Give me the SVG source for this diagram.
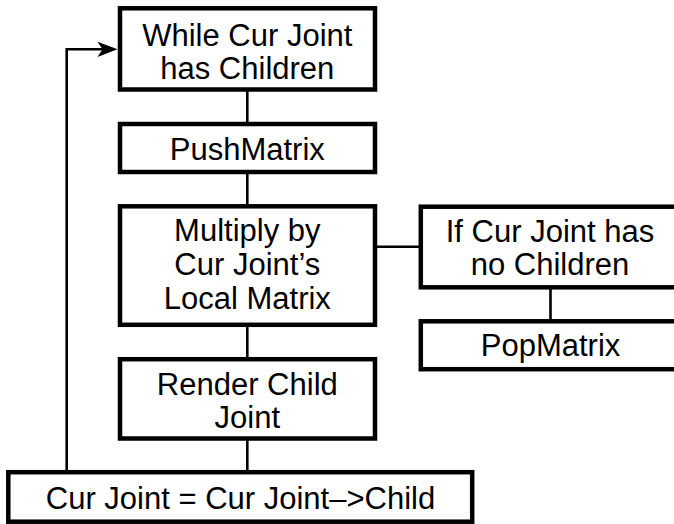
<svg xmlns="http://www.w3.org/2000/svg" width="674" height="524" viewBox="0 0 674 524">
  <style>
    .box { fill: #ffffff; stroke: #000000; stroke-width: 4.5; }
    .link { fill: none; stroke: #000000; stroke-width: 2.6; }
    .label { font-family: "Liberation Sans", Arial, Helvetica, sans-serif; font-size: 31px; fill: #000000; text-anchor: middle; }
  </style>
  <rect width="674" height="524" fill="#ffffff"/>

  <!-- connectors -->
  <g id="connectors">
    <line class="link" x1="247.3" y1="89.5" x2="247.3" y2="124"/>
    <line class="link" x1="247.3" y1="172" x2="247.3" y2="206.3"/>
    <line class="link" x1="247.3" y1="324.8" x2="247.3" y2="359.2"/>
    <line class="link" x1="247.3" y1="438.5" x2="247.3" y2="472.2"/>
    <line class="link" x1="375" y1="246.7" x2="420.8" y2="246.7"/>
    <line class="link" x1="550.5" y1="287.3" x2="550.5" y2="321.3"/>
    <!-- loop back to the top of the while block -->
    <path class="link" d="M66.7 472.2 V49.3 H104"/>
    <polygon points="117.5,49.3 97.5,41.7 102.5,49.3 97.5,56.9" fill="#000000"/>
  </g>

  <g id="while">
    <rect class="box" x="120" y="8.3" width="255" height="81.2"/>
    <text class="label" x="247.3" y="46">While Cur Joint</text>
    <text class="label" x="247.3" y="79">has Children</text>
  </g>

  <g id="push">
    <rect class="box" x="120" y="124" width="255" height="48"/>
    <text class="label" x="247.3" y="159.5">PushMatrix</text>
  </g>

  <g id="multiply">
    <rect class="box" x="120" y="206.3" width="255" height="118.5"/>
    <text class="label" x="247.3" y="241">Multiply by</text>
    <text class="label" x="247.3" y="275">Cur Joint’s</text>
    <text class="label" x="247.3" y="309">Local Matrix</text>
  </g>

  <g id="ifnochildren">
    <rect class="box" x="420.8" y="206.7" width="260" height="80.6"/>
    <text class="label" x="550" y="241.7">If Cur Joint has</text>
    <text class="label" x="550" y="275">no Children</text>
  </g>

  <g id="pop">
    <rect class="box" x="420.8" y="321.3" width="260" height="47.9"/>
    <text class="label" x="550.5" y="356">PopMatrix</text>
  </g>

  <g id="render">
    <rect class="box" x="120" y="359.2" width="255" height="79.3"/>
    <text class="label" x="247.3" y="394.5">Render Child</text>
    <text class="label" x="247.3" y="427.5">Joint</text>
  </g>

  <g id="advance">
    <rect class="box" x="8.3" y="472.2" width="463.9" height="49.5"/>
    <text class="label" x="240.5" y="509">Cur Joint = Cur Joint–&gt;Child</text>
  </g>
</svg>
